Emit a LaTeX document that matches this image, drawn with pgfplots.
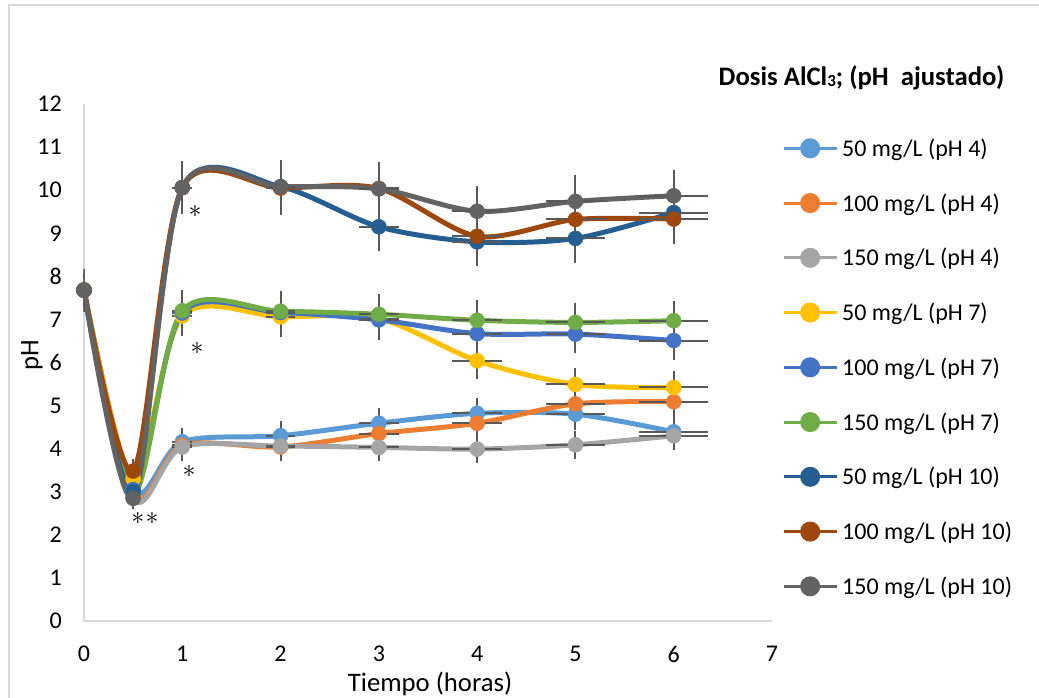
\documentclass[border=0pt]{standalone}
\usepackage{pgfplots}
\pgfplotsset{compat=1.18}
\usepackage{pgfplotstable}
\usepackage{graphicx}
\usepackage{fontspec}
\setmainfont{Carlito}
\definecolor{c1}{HTML}{5B9BD5}
\definecolor{c2}{HTML}{ED7D31}
\definecolor{c3}{HTML}{A5A5A5}
\definecolor{c4}{HTML}{FFC000}
\definecolor{c5}{HTML}{4472C4}
\definecolor{c6}{HTML}{70AD47}
\definecolor{c7}{HTML}{255E91}
\definecolor{c8}{HTML}{9E480E}
\definecolor{c9}{HTML}{636363}
\definecolor{errc}{HTML}{595959}
\definecolor{axc}{HTML}{D9D9D9}

\pgfplotstableread{
t    s1    s2    s3    s4    s5    s6    s7     s8     s9
0    7.68  7.68  7.68  7.68  7.68  7.68  7.68   7.68   7.68
0.5  3.05  2.90  2.85  3.30  3.05  2.95  3.00   3.48   2.85
1    4.16  4.08  4.04  7.08  7.15  7.20  10.06  10.06  10.06
2    4.30  4.04  4.06  7.06  7.16  7.19  10.08  10.05  10.08
3    4.59  4.35  4.03  7.02  6.99  7.12  9.15   10.04  10.03
4    4.82  4.59  3.99  6.04  6.67  6.98  8.80   8.93   9.51
5    4.80  5.04  4.09  5.49  6.66  6.93  8.88   9.32   9.74
6    4.39  5.09  4.30  5.42  6.51  6.97  9.48   9.33   9.87
}\data

\pgfplotsset{
  ln/.style={color=#1, mark=none, smooth, tension=0.5, line width=5bp},
  mk/.style={forget plot, only marks, mark=*, mark size=7.5bp, mark options={fill=#1, draw=#1, line width=0.5bp}},
  eb/.style={forget plot, draw=none, mark=none,
    error bars/.cd, x dir=both, x fixed relative=0.05, y dir=both, y fixed relative=0.05,
    error bar style={draw=errc, line width=2bp},
    error mark options={draw=errc, line width=2bp, mark size=5bp}},
}

\begin{document}
\begin{tikzpicture}
\path[use as bounding box] (-84bp,-77bp) rectangle (955bp,621bp);
\draw[axc, line width=1.2bp] (-75bp,-80bp) -- (-75bp,616bp) -- (960bp,616bp);
\begin{axis}[
  at={(0,0)}, anchor=south west,
  width=688bp, height=517bp, scale only axis,
  xmin=0, xmax=7, ymin=0, ymax=12,
  xtick={0,1,2,3,4,5,6,7}, ytick={0,1,2,3,4,5,6,7,8,9,10,11,12},
  axis x line=bottom, axis y line=left,
  axis line style={draw=axc, line width=1.3bp, -},
  major tick length=0pt,
  tick label style={font=\fontsize{24bp}{28bp}\selectfont},
  /pgf/number format/assume math mode=true,
  xticklabel style={inner sep=0pt, anchor=north, yshift=-25bp},
  yticklabel style={inner sep=0pt, anchor=east, xshift=-22bp},
  xlabel={Tiempo (horas)}, ylabel={pH},
  every axis x label/.style={at={(axis description cs:0.503,-0.122)}, anchor=center, font=\fontsize{26.7bp}{32bp}\selectfont},
  every axis y label/.style={at={(axis description cs:-0.0756,0.5145)}, anchor=center, rotate=90, font=\fontsize{26.7bp}{32bp}\selectfont},
  legend style={at={(axis description cs:1.0145,0.934)}, anchor=north west, draw=none, fill=none, inner sep=0pt,
    font=\fontsize{24bp}{28bp}\selectfont, row sep=34.75bp, column sep=4bp, nodes={inner sep=0pt}},
  legend cell align=left,
  legend image code/.code={\draw[#1, line width=3bp] (0bp,0bp) -- (53bp,0bp);
    \fill[#1] (26.5bp,0bp) circle[radius=7.5bp];},
]
% lines
\addplot[ln=c1] table[x=t,y=s1] {\data};
\addlegendentry{50 mg/L (pH 4)}
\addplot[ln=c2] table[x=t,y=s2] {\data};
\addlegendentry{100 mg/L (pH 4)}
\addplot[ln=c3] table[x=t,y=s3] {\data};
\addlegendentry{150 mg/L (pH 4)}
\addplot[ln=c4] table[x=t,y=s4] {\data};
\addlegendentry{50 mg/L (pH 7)}
\addplot[ln=c5] table[x=t,y=s5] {\data};
\addlegendentry{100 mg/L (pH 7)}
\addplot[ln=c6] table[x=t,y=s6] {\data};
\addlegendentry{150 mg/L (pH 7)}
\addplot[ln=c7] table[x=t,y=s7] {\data};
\addlegendentry{50 mg/L (pH 10)}
\addplot[ln=c8] table[x=t,y=s8] {\data};
\addlegendentry{100 mg/L (pH 10)}
\addplot[ln=c9] table[x=t,y=s9] {\data};
\addlegendentry{150 mg/L (pH 10)}
% error bars
\addplot[eb] table[x=t,y=s1] {\data};
\addplot[eb] table[x=t,y=s2] {\data};
\addplot[eb] table[x=t,y=s3] {\data};
\addplot[eb] table[x=t,y=s4] {\data};
\addplot[eb] table[x=t,y=s5] {\data};
\addplot[eb] table[x=t,y=s6] {\data};
\addplot[eb] table[x=t,y=s7] {\data};
\addplot[eb] table[x=t,y=s8] {\data};
\addplot[eb] table[x=t,y=s9] {\data};
% markers
\addplot[mk=c1] table[x=t,y=s1] {\data};
\addplot[mk=c2] table[x=t,y=s2] {\data};
\addplot[mk=c3] table[x=t,y=s3] {\data};
\addplot[mk=c4] table[x=t,y=s4] {\data};
\addplot[mk=c5] table[x=t,y=s5] {\data};
\addplot[mk=c6] table[x=t,y=s6] {\data};
\addplot[mk=c7] table[x=t,y=s7] {\data};
\addplot[mk=c8] table[x=t,y=s8] {\data};
\addplot[mk=c9] table[x=t,y=s9] {\data};
\node at (axis cs:1.13,9.51) {\scalebox{2.6}{$\ast$}};
\node at (axis cs:1.15,6.33) {\scalebox{2.6}{$\ast$}};
\node at (axis cs:1.07,3.46) {\scalebox{2.6}{$\ast$}};
\node at (axis cs:0.62,2.37) {\scalebox{2.6}{$\ast$\kern0.5bp$\ast$}};
\end{axis}
\node[font=\bfseries\fontsize{26.7bp}{32bp}\selectfont, anchor=center] at (777.5bp,543bp) {Dosis AlCl{\fontsize{17bp}{17bp}\selectfont\raisebox{-1bp}{3}}; (pH\ \ ajustado)};
\end{tikzpicture}
\end{document}
